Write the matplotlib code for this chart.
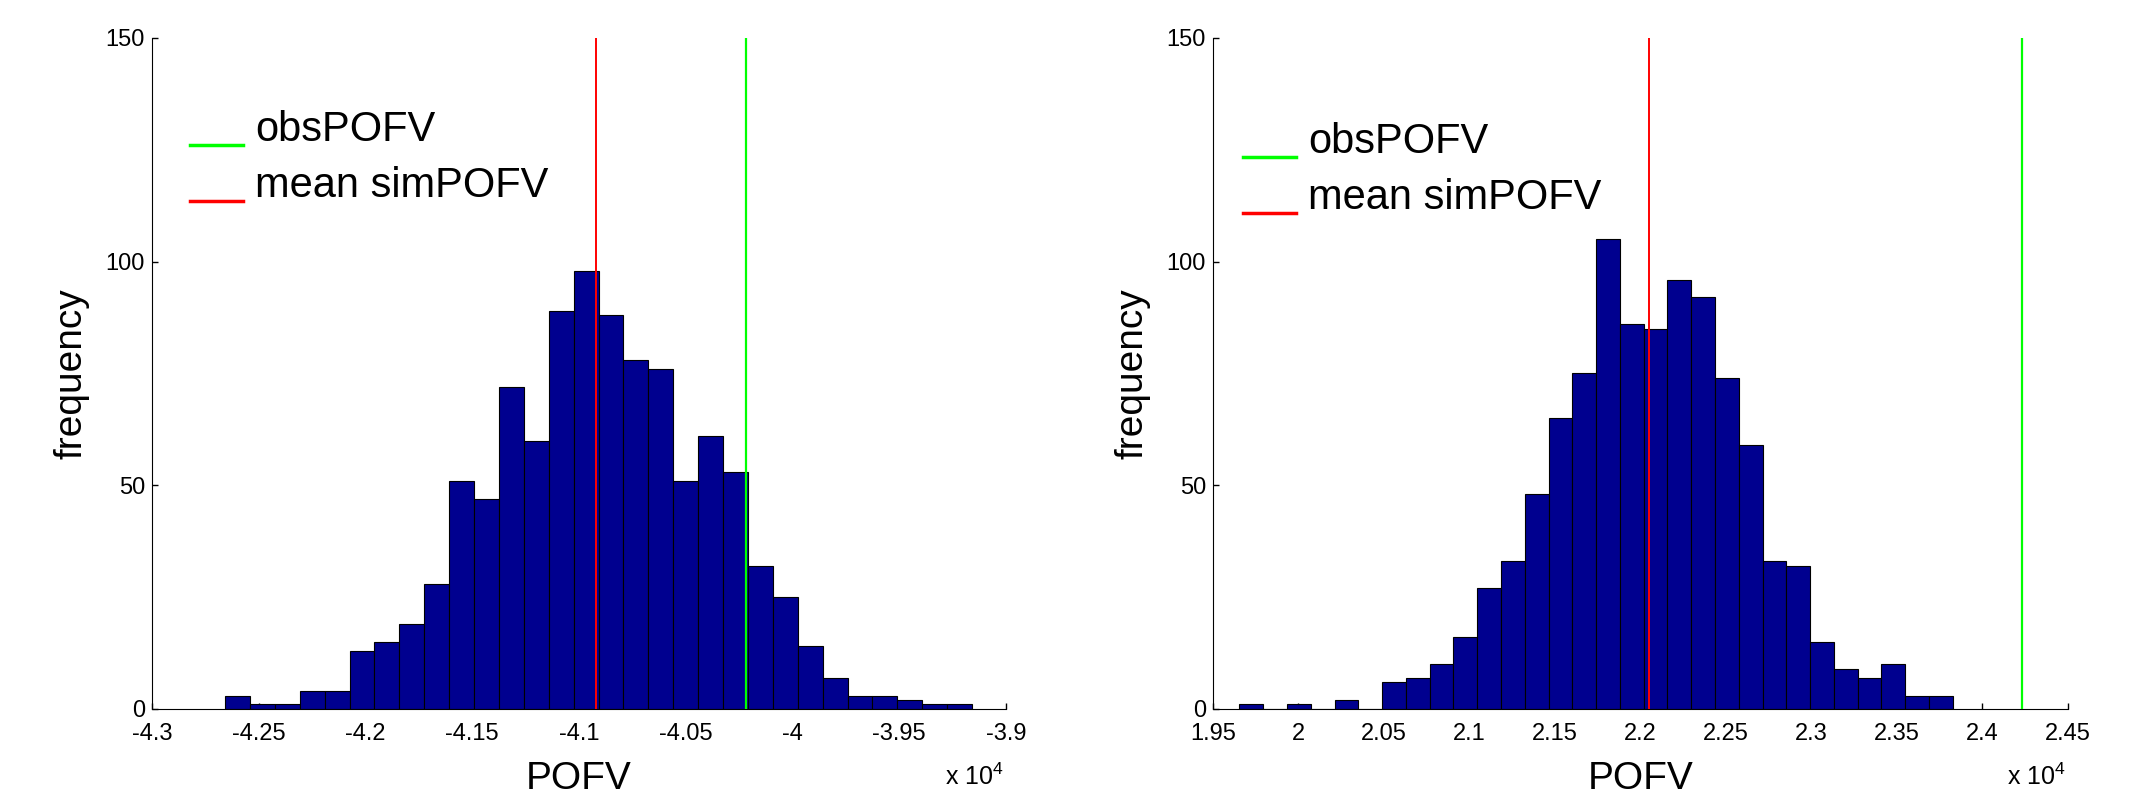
import numpy as np
import matplotlib
matplotlib.use('Agg')
import matplotlib.pyplot as plt
from matplotlib.ticker import FuncFormatter
from matplotlib.legend_handler import HandlerLine2D

plt.rcParams['font.family'] = ['Liberation Sans', 'DejaVu Sans']
plt.rcParams['axes.unicode_minus'] = False
plt.rcParams['mathtext.default'] = 'regular'

# left panel: histogram of simulated POFV (30 bins)
left_lo, left_hi = -42658, -39159
left_counts = [3, 1, 1, 4, 4, 13, 15, 19, 28, 51, 47, 72, 60, 89, 98,
               88, 78, 76, 51, 61, 53, 32, 25, 14, 7, 3, 3, 2, 1, 1]
left_obs = -40219
left_mean = -40918
left_xlim = (-43000, -39000)

# right panel
right_lo, right_hi = 19655, 23827
right_counts = [1, 0, 1, 0, 2, 0, 6, 7, 10, 16, 27, 33, 48, 65, 75,
                105, 86, 85, 96, 92, 74, 59, 33, 32, 15, 9, 7, 10, 3, 3]
right_obs = 24233
right_mean = 22052
right_xlim = (19500, 24500)

yticks = [0, 50, 100, 150]
bar_color = '#00008f'


class LowLine(HandlerLine2D):
    # matlab draws the legend line under the text baseline
    def create_artists(self, legend, orig_handle, xdescent, ydescent,
                       width, height, fontsize, trans):
        arts = super().create_artists(legend, orig_handle, xdescent, ydescent,
                                      width, height, fontsize, trans)
        for a in arts:
            a.set_ydata(np.asarray(a.get_ydata()) - 0.45 * fontsize)
            a.set_linewidth(2.5)
        return arts


def panel(ax, lo, hi, counts, obs, mean, xlim, legy, legx):
    edges = np.linspace(lo, hi, len(counts) + 1)
    ax.hist(edges[:-1], bins=edges, weights=counts, color=bar_color,
            edgecolor='black', linewidth=0.8, zorder=2)
    g, = ax.plot([obs, obs], [0, 150], color='#00ff00', lw=1.6, zorder=3)
    r, = ax.plot([mean, mean], [0, 150], color='red', lw=1.4, zorder=3)
    ax.set_xlim(xlim)
    ax.set_ylim(0, 150)
    ax.set_xticks(np.arange(xlim[0], xlim[1] + 1, 500))
    ax.set_yticks(yticks)
    ax.xaxis.set_major_formatter(FuncFormatter(lambda v, p: '%g' % (v / 1e4)))
    ax.set_axisbelow(True)
    ax.tick_params(direction='in', length=4, width=1, labelsize=17)
    ax.tick_params(axis='x', pad=10)
    ax.tick_params(axis='y', pad=5)
    for s in ['top', 'right']:
        ax.spines[s].set_visible(False)
    ax.set_xlabel('POFV', fontsize=28)
    ax.xaxis.set_label_coords(0.5, -0.077)
    ax.set_ylabel('frequency', fontsize=28)
    ax.yaxis.set_label_coords(-0.073, 0.5)
    ax.text(0.997, -0.114, r'x 10$^{4}$', transform=ax.transAxes,
            ha='right', va='baseline', fontsize=18)
    ax.legend([g, r], ['obsPOFV', 'mean simPOFV'], loc='upper left',
              bbox_to_anchor=(legx, legy), frameon=False, fontsize=30,
              borderpad=0, borderaxespad=0, handlelength=1.27,
              handletextpad=0.3, labelspacing=0.38,
              handler_map={matplotlib.lines.Line2D: LowLine()})


fig = plt.figure(figsize=(21.29, 7.94), dpi=100)
ax1 = fig.add_axes([0.0714, 0.1071, 0.4011, 0.8451])
ax2 = fig.add_axes([0.5697, 0.1071, 0.4016, 0.8451])

panel(ax1, left_lo, left_hi, left_counts, left_obs, left_mean, left_xlim, 0.893, 0.0445)
panel(ax2, right_lo, right_hi, right_counts, right_obs, right_mean, right_xlim, 0.875, 0.035)

fig.savefig('out.png', dpi=100)
